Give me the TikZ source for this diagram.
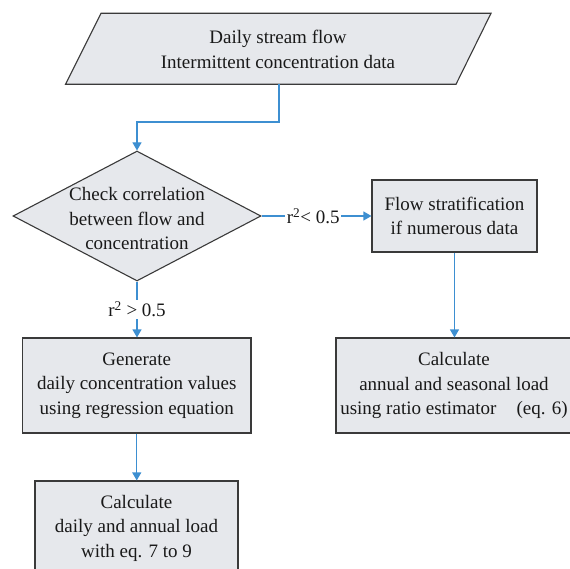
\documentclass[tikz,border=0pt]{standalone}
\usepackage{fontspec}
\setmainfont{Liberation Serif}
\usetikzlibrary{arrows.meta,shapes.geometric}
\definecolor{boxfill}{HTML}{E6E8EC}
\definecolor{boxline}{HTML}{3A3A3A}
\definecolor{arrblue}{HTML}{3D8FD1}
\begin{document}
\begin{tikzpicture}[x=1pt,y=-1pt,
 txt/.style={align=center,font=\fontsize{19}{24.5}\selectfont,inner sep=0pt,text=black!90},
 shapest/.style={draw=boxline,fill=boxfill,line width=1.1pt},
 boxst/.style={shapest,txt},
 arr/.style={draw=arrblue,line width=1.1pt,-{Triangle[length=8pt,width=9pt]}},
 lbl/.style={txt,fill=white,inner sep=1.5pt}]
\useasboundingbox (0,0) rectangle (570,569);
\clip (0,0) rectangle (570,569);
% input parallelogram
\draw[shapest] (101,13.3) -- (491,13.3) -- (456,84.3) -- (65.5,84.3) -- cycle;
\node[txt] (input) at (278,49.5) {Daily stream flow\\Intermittent concentration data};
\coordinate (inbot) at (279,84.3);
% decision
\node[shapest,shape=diamond,minimum width=248pt,minimum height=130pt,inner sep=0pt] (chk) at (137,216) {};
\node[txt] (chktxt) at (137,219) {Check correlation\\between flow and\\concentration};
% boxes
\node[boxst,minimum width=165pt,minimum height=72pt] (flow) at (454.5,216) {Flow stratification\\if numerous data};
\node[boxst,minimum width=228.5pt,minimum height=95pt] (gen) at (136.75,385.5) {Generate\\daily concentration values\\using regression equation};
\node[boxst,minimum width=236pt,minimum height=95pt] (calcr) at (454,385.5) {Calculate\\annual and seasonal load\\using ratio estimator\hspace{20pt}(eq. 6)};
\node[boxst,minimum width=203pt,minimum height=94pt] (calcd) at (136.5,528) {Calculate\\daily and annual load\\with eq. 7 to 9};
% connectors
\draw[arr] (inbot) -- ++(0,37.7) -| (chk.north);
\draw[arr] (chk.east) -- node[lbl,pos=0.47]{r\textsuperscript{2}< 0.5} (flow.west);
\draw[arr] (chk.south) -- node[lbl]{r\textsuperscript{2} > 0.5} (chk.south |- gen.north);
\draw[arr] (gen.south) -- (gen.south |- calcd.north);
\draw[arr] (flow.south) -- (flow.south |- calcr.north);
\end{tikzpicture}
\end{document}
